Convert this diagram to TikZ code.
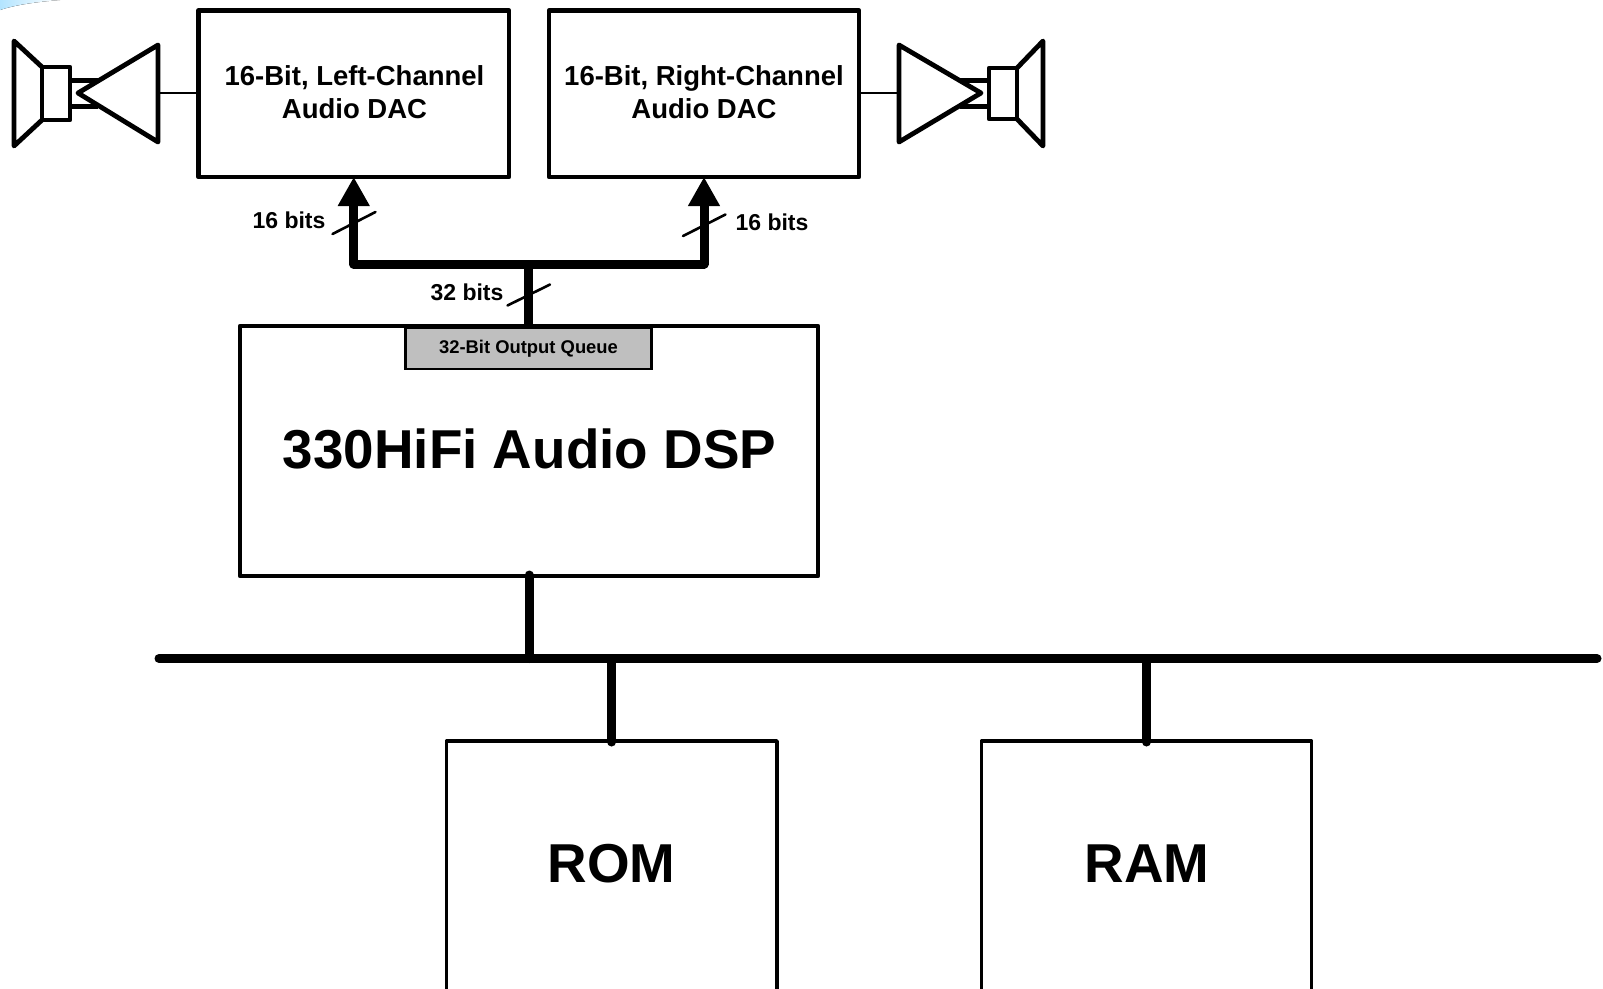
\documentclass[tikz,border=0pt]{standalone}
\usepackage{fontspec}
\setmainfont{Liberation Sans}
\usetikzlibrary{arrows.meta,calc}
\tikzset{
  box/.style={draw=black,line width=3.8pt,fill=white,inner sep=0pt,outer sep=0pt,align=center,font=\bfseries,anchor=north west,line join=round},
  spk/.style={draw=black,line width=4.8pt,line join=round,line cap=round},
  thinwire/.style={draw=black,line width=2.4pt},
  buswire/.style={draw=black,line width=9pt,line join=round},
  tipped/.style={-{Triangle[length=29pt,width=30pt]}},
  slash/.style={draw=black,line width=2.6pt,line cap=round},
  lbl/.style={font=\fontsize{23}{27}\selectfont\bfseries,inner sep=0pt},
  big/.style={font=\fontsize{54.8}{60}\selectfont\bfseries,inner sep=0pt},
  dac/.style={font=\fontsize{27.5}{33}\selectfont\bfseries,align=center,inner sep=0pt}
}
\begin{document}
\begin{tikzpicture}[x=1pt,y=-1pt]
\useasboundingbox (0,0) rectangle (1603,988);
\clip (0,0) rectangle (1603,988);
% faint smudge at the top-left corner
\fill[left color=blue!35!cyan!30!white,right color=white] (0,0) -- (60,0) .. controls (35,2) and (15,5) .. (0,10) -- cycle;
% boxes
\node[box,line width=4.6pt,minimum width=310.5pt,minimum height=166.5pt] (dacL) at (198.5,10.5) {};
\node[box,line width=4.6pt,minimum width=310pt,minimum height=166.5pt] (dacR) at (549,10.5) {};
\node[box,line width=4.2pt,minimum width=578pt,minimum height=250pt] (dsp) at (240,326) {};
\node[box,minimum width=330.5pt,minimum height=300pt] (rom) at (446.5,741) {};
\node[box,minimum width=330pt,minimum height=300pt] (ram) at (981.5,741) {};
\node[draw=black,line width=2.4pt,fill=black!25,inner sep=0pt,outer sep=0pt,minimum width=246pt,minimum height=41pt,anchor=north] (queue) at (528.5,328) {};
% texts
\node[dac] (dacLt) at (354.5,92) {16-Bit, Left-Channel\\Audio DAC};
\node[dac] (dacRt) at (704,92) {16-Bit, Right-Channel\\Audio DAC};
\node[font=\fontsize{18.4}{22}\selectfont\bfseries,inner sep=0pt] (queuet) at (528.5,349) {32-Bit Output Queue};
\node[big] (dspt) at (529.5,449) {330HiFi Audio DSP};
\node[big] (romt) at (611.5,864) {ROM};
\node[big] (ramt) at (1147,864) {RAM};
% bus coordinates
\coordinate (busL) at (159,658.5);
\coordinate (busR) at (1597,658.5);
\coordinate (j) at (528.5,264);
\coordinate (jR) at (dacR.south |- j);
\coordinate (jL) at (dacL.south |- j);
% wires
\draw[buswire,line cap=round] (busL) -- (busR);
\draw[buswire,line cap=round] ($(dsp.south)+(0,-1)$) -- (dsp.south |- busL);
\draw[buswire,line cap=round] (rom.north |- busL) -- ($(rom.north)+(0,1)$);
\draw[buswire,line cap=round] (ram.north |- busL) -- ($(ram.north)+(0,1)$);
\draw[buswire] (queue.north) -- (j);
\draw[buswire,tipped] (j) -- (jL) -- (dacL.south);
\draw[buswire,tipped] (j) -- (jR) -- (dacR.south);
% slashes
\coordinate (sL1) at (332.5,234); \coordinate (sL2) at (375.5,212);
\coordinate (sR1) at (683,236);   \coordinate (sR2) at (725.5,214.5);
\coordinate (sM1) at (507.5,305.5); \coordinate (sM2) at (550,284.5);
\draw[slash] (sL1) -- (sL2);
\draw[slash] (sR1) -- (sR2);
\draw[slash] (sM1) -- (sM2);
\node[lbl] (l16L) at (289,220) {16 bits};
\node[lbl] (l16R) at (772,222) {16 bits};
\node[lbl] (l32) at (467,292) {32 bits};
% left speaker
\coordinate (tL) at (158,93);
\draw[spk] (158,45) -- (78,93) -- (158,142) -- cycle;
\draw[spk] (42,67) rectangle (70,120);
\draw[spk] (42,67) -- (14,41) -- (14,146) -- (42,120);
\draw[spk,line cap=butt] (70,80.5) -- (98,80.5);
\draw[spk,line cap=butt] (70,106.5) -- (98,106.5);
\draw[thinwire] (tL) -- (dacL.west |- tL);
% right speaker
\coordinate (tR) at (899,93);
\draw[spk] (899,45) -- (981,93) -- (899,142) -- cycle;
\draw[spk] (989,68) rectangle (1017,119);
\draw[spk] (1017,68) -- (1043,41) -- (1043,146) -- (1017,119);
\draw[spk,line cap=butt] (960,80.5) -- (989,80.5);
\draw[spk,line cap=butt] (960,106.5) -- (989,106.5);
\draw[thinwire] (dacR.east |- tR) -- (tR);
\end{tikzpicture}
\end{document}
